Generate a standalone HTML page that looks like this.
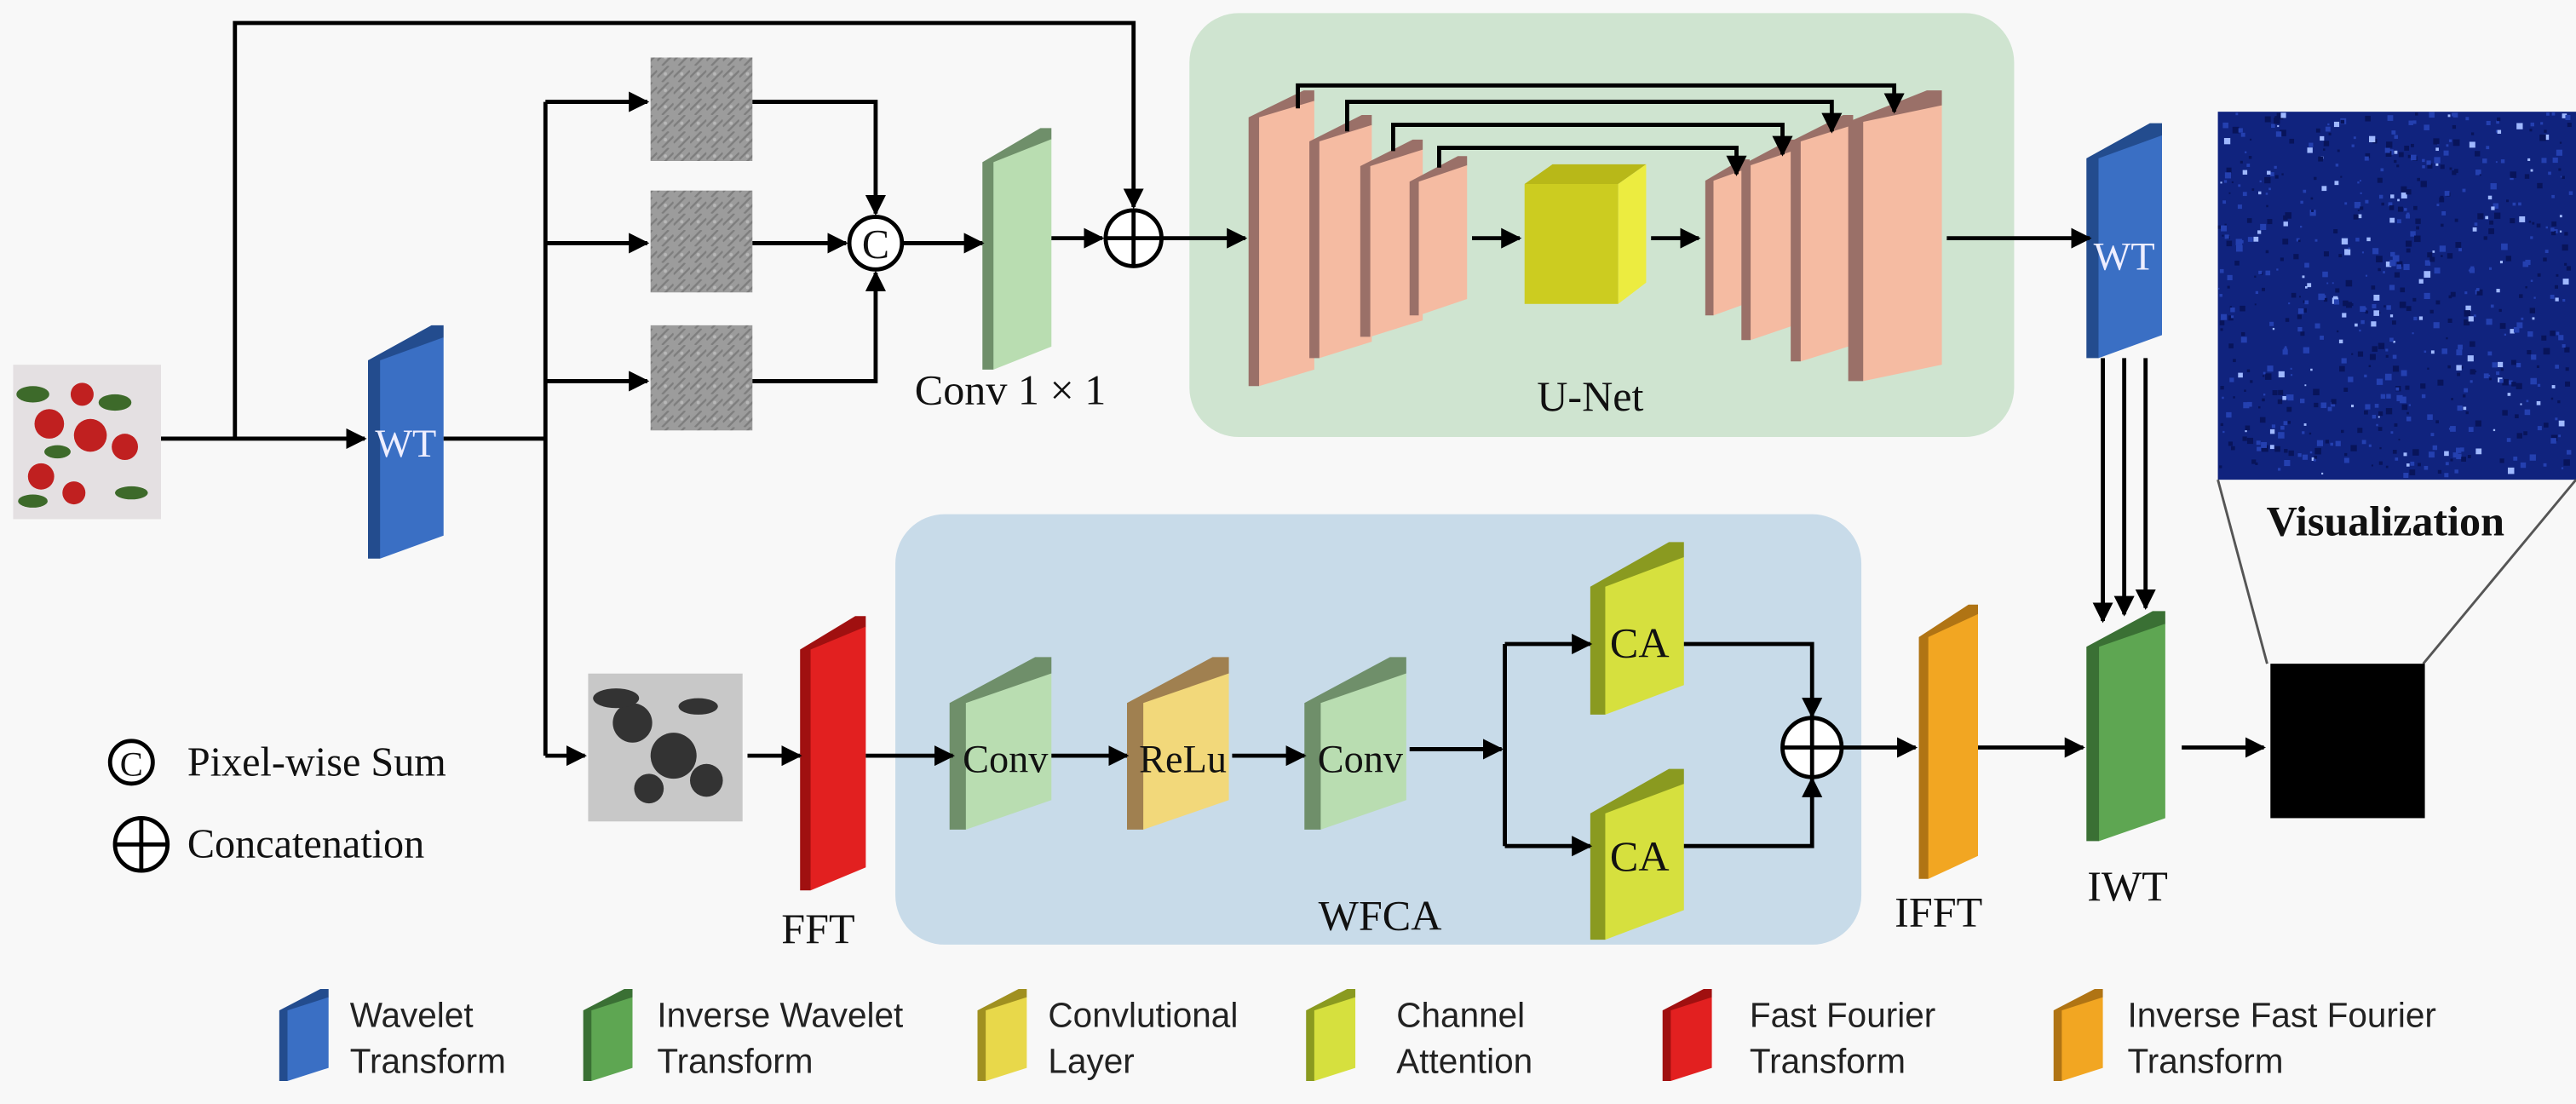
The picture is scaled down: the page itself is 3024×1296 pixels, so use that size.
<!DOCTYPE html>
<html><head><meta charset="utf-8"><style>
html,body{margin:0;padding:0;background:#f8f8f8;}
svg{display:block}
.s{font-family:"Liberation Serif",serif;fill:#111}
.l{font-family:"Liberation Sans",sans-serif;fill:#222;font-size:21px}
</style></head><body>
<svg id="g" width="3024" height="1296" viewBox="0 0 1568 672" xmlns="http://www.w3.org/2000/svg">
<defs>
<marker id="a" viewBox="0 0 10 10" refX="9" refY="5" markerWidth="5" markerHeight="5" orient="auto"><path d="M0,0 L10,5 L0,10 z" fill="#000"/></marker>
<pattern id="tex" width="10" height="10" patternUnits="userSpaceOnUse"><rect width="10" height="10" fill="#9c9c9c"/><path d="M0,7 L7,0 M3,10 L10,3" stroke="#7e7e7e" stroke-width="1.2"/><circle cx="5" cy="5" r="1" fill="#b8b8b8"/></pattern>
</defs>
<rect width="1568" height="672" fill="#f8f8f8"/>
<rect x="724" y="8" width="502" height="258" rx="30" fill="#cfe4d0"/>
<rect x="545" y="313" width="588" height="262" rx="30" fill="#c8dbe9"/>
<g id="shapes"></g>
<rect x="8" y="222" width="90" height="94" fill="#e4e0e2"/>
<g fill="#3d6a2a"><ellipse cx="20" cy="240" rx="10" ry="5"/><ellipse cx="70" cy="245" rx="10" ry="5"/><ellipse cx="35" cy="275" rx="8" ry="4"/><ellipse cx="80" cy="300" rx="10" ry="4"/><ellipse cx="20" cy="305" rx="9" ry="4"/></g>
<g fill="#c02020"><circle cx="30" cy="258" r="9"/><circle cx="55" cy="265" r="10"/><circle cx="76" cy="272" r="8"/><circle cx="25" cy="290" r="8"/><circle cx="45" cy="300" r="7"/><circle cx="50" cy="240" r="7"/></g>
<rect x="396" y="35" width="62" height="63" fill="url(#tex)"/>
<rect x="396" y="116" width="62" height="62" fill="url(#tex)"/>
<rect x="396" y="198" width="62" height="64" fill="url(#tex)"/>
<rect x="358" y="410" width="94" height="90" fill="#c8c8c8"/>
<g fill="#333"><circle cx="385" cy="440" r="12"/><circle cx="410" cy="460" r="14"/><circle cx="430" cy="475" r="10"/><circle cx="395" cy="480" r="9"/><ellipse cx="375" cy="425" rx="14" ry="6"/><ellipse cx="425" cy="430" rx="12" ry="5"/></g>
<rect x="1350" y="68" width="218" height="224" fill="#10237e"/>
<g id="dots"></g>
<line x1="1350" y1="292" x2="1380" y2="404" stroke="#555" stroke-width="1.5"/>
<line x1="1568" y1="292" x2="1475" y2="404" stroke="#555" stroke-width="1.5"/>
<rect x="1382" y="404" width="94" height="94" fill="#000"/>
<text x="1452" y="326" class="s" font-size="26" font-weight="bold" text-anchor="middle">Visualization</text>

<g stroke="#000" stroke-width="2.5" fill="none">
<polyline points="98,267 222,267" marker-end="url(#a)"/>
<polyline points="143,267 143,14 690,14 690,126" marker-end="url(#a)"/>
<polyline points="270,267 332,267"/>
<polyline points="332,62 332,460"/>
<polyline points="332,62 394,62" marker-end="url(#a)"/>
<polyline points="332,148 394,148" marker-end="url(#a)"/>
<polyline points="332,232 394,232" marker-end="url(#a)"/>
<polyline points="332,460 356,460" marker-end="url(#a)"/>
<polyline points="458,62 533,62 533,130" marker-end="url(#a)"/>
<polyline points="458,148 515,148" marker-end="url(#a)"/>
<polyline points="458,232 533,232 533,166" marker-end="url(#a)"/>
<polyline points="549,148 598,148" marker-end="url(#a)"/>
<polyline points="640,145 671,145" marker-end="url(#a)"/>
<polyline points="707,145 758,145" marker-end="url(#a)"/>
<polyline points="896,145 925,145" marker-end="url(#a)"/>
<polyline points="1005,145 1034,145" marker-end="url(#a)"/>
<polyline points="1185,145 1272,145" marker-end="url(#a)"/>
<polyline points="790,66 790,52 1153,52 1153,68" marker-end="url(#a)"/>
<polyline points="820,80 820,62 1115,62 1115,80" marker-end="url(#a)"/>
<polyline points="848,92 848,76 1085,76 1085,94" marker-end="url(#a)"/>
<polyline points="876,102 876,90 1057,90 1057,106" marker-end="url(#a)"/>
<polyline points="1280,218 1280,378" marker-end="url(#a)"/>
<polyline points="1293,218 1293,374" marker-end="url(#a)"/>
<polyline points="1306,218 1306,370" marker-end="url(#a)"/>
<polyline points="1328,455 1378,455" marker-end="url(#a)"/>
<polyline points="455,460 487,460" marker-end="url(#a)"/>
<polyline points="527,460 580,460" marker-end="url(#a)"/>
<polyline points="640,460 686,460" marker-end="url(#a)"/>
<polyline points="750,460 794,460" marker-end="url(#a)"/>
<polyline points="858,456 914,456" marker-end="url(#a)"/>
<polyline points="916,392 916,515"/>
<polyline points="916,392 968,392" marker-end="url(#a)"/>
<polyline points="916,515 968,515" marker-end="url(#a)"/>
<polyline points="1025,392 1103,392 1103,436" marker-end="url(#a)"/>
<polyline points="1025,515 1103,515 1103,474" marker-end="url(#a)"/>
<polyline points="1121,455 1166,455" marker-end="url(#a)"/>
<polyline points="1204,455 1268,455" marker-end="url(#a)"/>
</g>
<g stroke="#000" stroke-width="2.5" fill="#fff">
<circle cx="533" cy="148" r="16"/>
<circle cx="690" cy="145" r="17"/><line x1="673" y1="145" x2="707" y2="145"/><line x1="690" y1="128" x2="690" y2="162"/>
<circle cx="1103" cy="455" r="18"/><line x1="1085" y1="455" x2="1121" y2="455"/><line x1="1103" y1="437" x2="1103" y2="473"/>
<circle cx="80" cy="464" r="13"/>
<circle cx="86" cy="514" r="16"/><line x1="70" y1="514" x2="102" y2="514"/><line x1="86" y1="498" x2="86" y2="530"/>
</g>
<text x="533" y="157" class="s" font-size="25" text-anchor="middle">C</text>
<text x="80" y="472" class="s" font-size="21" text-anchor="middle">C</text>

<text x="247" y="278" class="s" font-size="24" text-anchor="middle" style="fill:#eef">WT</text>
<text x="1293" y="164" class="s" font-size="24" text-anchor="middle" style="fill:#eef">WT</text>
<text x="615" y="246" class="s" font-size="26" text-anchor="middle">Conv 1 × 1</text>
<text x="968" y="250" class="s" font-size="26" text-anchor="middle">U-Net</text>
<text x="840" y="566" class="s" font-size="26" text-anchor="middle">WFCA</text>
<text x="498" y="574" class="s" font-size="26" text-anchor="middle">FFT</text>
<text x="1180" y="564" class="s" font-size="26" text-anchor="middle">IFFT</text>
<text x="1295" y="548" class="s" font-size="26" text-anchor="middle">IWT</text>
<text x="612" y="470" class="s" font-size="24" text-anchor="middle">Conv</text>
<text x="720" y="470" class="s" font-size="24" text-anchor="middle">ReLu</text>
<text x="828" y="470" class="s" font-size="24" text-anchor="middle">Conv</text>
<text x="998" y="400" class="s" font-size="26" text-anchor="middle">CA</text>
<text x="998" y="530" class="s" font-size="26" text-anchor="middle">CA</text>
<text x="114" y="472" class="s" font-size="25">Pixel-wise Sum</text>
<text x="114" y="522" class="s" font-size="25">Concatenation</text>
<text x="213" y="625" class="l">Wavelet</text><text x="213" y="653" class="l">Transform</text>
<text x="400" y="625" class="l">Inverse Wavelet</text><text x="400" y="653" class="l">Transform</text>
<text x="638" y="625" class="l">Convlutional</text><text x="638" y="653" class="l">Layer</text>
<text x="850" y="625" class="l">Channel</text><text x="850" y="653" class="l">Attention</text>
<text x="1065" y="625" class="l">Fast Fourier</text><text x="1065" y="653" class="l">Transform</text>
<text x="1295" y="625" class="l">Inverse Fast Fourier</text><text x="1295" y="653" class="l">Transform</text>
</svg>
<script>
function slab(x1,x2,y1,y2,c,dk,dd){var w=x2-x1,s=Math.max(5,w*0.16),d=dd!==undefined?dd:w*0.35;
return '<polygon points="'+x1+','+(y1+d+s)+' '+(x2-s)+','+y1+' '+x2+','+y1+' '+x2+','+(y1+s)+' '+(x1+s)+','+y2+' '+x1+','+y2+'" fill="'+dk+'"/>'+
'<polygon points="'+(x1+s)+','+(y1+d+s)+' '+x2+','+(y1+s)+' '+x2+','+(y2-d)+' '+(x1+s)+','+y2+'" fill="'+c+'"/>';}
var B='#3a6fc4',Bd='#234c8e',G='#5ea652',Gd='#3a7034',R='#e22020',Rd='#a01010',O='#f2a622',Od='#b07414',
CG='#b9ddb1',CGd='#6f8f6a',Y='#f2d87a',Yd='#a08050',CA='#d6e03e',CAd='#8a9a20',P='#f5bba2',Pd='#9a7068';
var h='';
h+=slab(224,270,198,340,B,Bd,14);
h+=slab(598,640,78,225,CG,CGd,14);
h+=slab(760,800,55,235,P,Pd,10);
h+=slab(797,835,70,218,P,Pd,10);
h+=slab(828,866,85,205,P,Pd,10);
h+=slab(858,893,95,192,P,Pd,10);
h+='<polygon points="928,112 945,100 1002,100 985,112" fill="#b8b818"/><polygon points="985,112 1002,100 1002,172 985,185" fill="#ecec40"/><rect x="928" y="112" width="57" height="73" fill="#cccc20"/>';
h+=slab(1038,1065,97,192,P,Pd,8);
h+=slab(1060,1095,85,207,P,Pd,10);
h+=slab(1090,1128,70,220,P,Pd,10);
h+=slab(1125,1182,55,232,P,Pd,10);
h+=slab(1270,1316,75,218,B,Bd,14);
h+=slab(1270,1318,372,512,G,Gd,14);
h+=slab(487,527,375,542,R,Rd,14);
h+=slab(1168,1204,368,535,O,Od,14);
h+=slab(578,640,400,505,CG,CGd,18);
h+=slab(686,748,400,505,Y,Yd,18);
h+=slab(794,856,400,505,CG,CGd,18);
h+=slab(968,1025,330,435,CA,CAd,18);
h+=slab(968,1025,468,572,CA,CAd,18);
var L=[[170,B,Bd],[355,G,Gd],[595,'#e8d84a','#a09020'],[795,CA,CAd],[1012,R,Rd],[1250,O,Od]];
L.forEach(function(e){h+=slab(e[0],e[0]+30,602,658,e[1],e[2],8);});
document.getElementById('shapes').innerHTML=h;
var d='',seed=7;function rnd(){seed=(seed*9301+49297)%233280;return seed/233280;}
for(var i=0;i<700;i++){var x=1350+rnd()*214,y=68+rnd()*220;var r=rnd();var c=r<0.12?'#9fb8ff':(r<0.55?'#2440b0':'#08145a');var sz=1+rnd()*3;d+='<rect x="'+x.toFixed(1)+'" y="'+y.toFixed(1)+'" width="'+sz.toFixed(1)+'" height="'+sz.toFixed(1)+'" fill="'+c+'"/>';}
document.getElementById('dots').innerHTML=d;
</script>
</body></html>
